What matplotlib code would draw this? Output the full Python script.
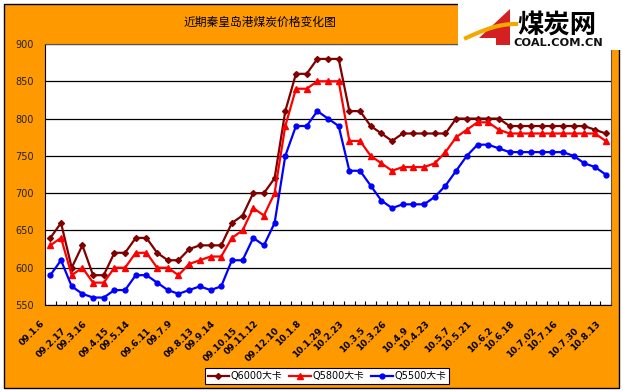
import numpy as np
import matplotlib
matplotlib.use('Agg')
import matplotlib.pyplot as plt
from matplotlib.patches import Rectangle, Polygon
from matplotlib.transforms import ScaledTranslation

plt.rcParams['font.family'] = ['DejaVu Sans', 'Noto Sans CJK SC']

# Данные
dates = ['09.1.6', '09.2.17', '09.3.16', '09.4.15', '09.5.14', '09.6.11', '09.7.9',
         '09.8.13', '09.9.14', '09.10.15', '09.11.12', '09.12.10', '10.1.8', '10.1.29',
         '10.2.23', '10.3.5', '10.3.26', '10.4.9', '10.4.23', '10.5.7', '10.5.21',
         '10.6.2', '10.6.18', '10.7.02', '10.7.16', '10.7.30', '10.8.13']

q6000 = [640, 660, 600, 630, 590, 590, 620, 620, 640, 640, 620, 610, 610, 625, 630, 630,
         630, 660, 670, 700, 700, 720, 810, 860, 860, 880, 880, 880, 810, 810, 790, 780,
         770, 780, 780, 780, 780, 780, 800, 800, 800, 800, 800, 790, 790, 790, 790, 790,
         790, 790, 790, 785, 780]
q5800 = [630, 640, 590, 600, 580, 580, 600, 600, 620, 620, 600, 600, 590, 605, 610, 615,
         615, 640, 650, 680, 670, 700, 790, 840, 840, 850, 850, 850, 770, 770, 750, 740,
         730, 735, 735, 735, 740, 755, 775, 785, 795, 795, 785, 780, 780, 780, 780, 780,
         780, 780, 780, 780, 770]
q5500 = [590, 610, 575, 565, 560, 560, 570, 570, 590, 590, 580, 570, 565, 570, 575, 570,
         575, 610, 610, 640, 630, 660, 750, 790, 790, 810, 800, 790, 730, 730, 710, 690,
         680, 685, 685, 685, 695, 710, 730, 750, 765, 765, 760, 755, 755, 755, 755, 755,
         755, 750, 740, 735, 725]

W, H = 623, 392
orange = '#FF9900'


def px(x, y):
    return (x / W, 1 - y / H)


fig = plt.figure(figsize=(W / 100, H / 100), dpi=100, facecolor='white')

# Рамка и фон
fig.patches.append(Rectangle(px(4, 388), 615 / W, 384 / H, transform=fig.transFigure,
                             facecolor=orange, edgecolor='black', lw=1, zorder=-10))

ax = fig.add_axes([45 / W, 1 - 305 / H, 566 / W, 261 / H])
ax.set_facecolor('white')

x = np.arange(len(q6000))
ax.plot(x, q6000, color='#800000', lw=1.6, marker='D', ms=3, label='Q6000大卡')
ax.plot(x, q5800, color='#FF0000', lw=1.6, marker='^', ms=4.5, label='Q5800大卡')
ax.plot(x, q5500, color='#0000FF', lw=1.6, marker='o', ms=3.5, label='Q5500大卡')

ax.set_xlim(-0.5, len(x) - 0.5)
ax.set_ylim(550, 900)
ax.set_yticks(np.arange(550, 901, 50))
ax.yaxis.grid(True, color='black', lw=0.9)
ax.set_axisbelow(True)
ax.tick_params(axis='y', length=0, pad=8, labelsize=7, labelcolor='#222222')

# Подписи дат через одну, со сдвигом в два ряда
ax.set_xticks(x[::2], dates)
ax.tick_params(axis='x', length=0, pad=0)
for i, lab in enumerate(ax.get_xticklabels()):
    dy = -0.17 if i % 2 == 0 else -0.24
    lab.set_rotation(45)
    lab.set_rotation_mode('anchor')
    lab.set_ha('right')
    lab.set_va('center')
    lab.set_fontsize(6.5)
    lab.set_fontweight('bold')
    lab.set_transform(lab.get_transform() + ScaledTranslation(-0.07, dy, fig.dpi_scale_trans))

# Засечки между категориями
sec = ax.secondary_xaxis('bottom')
sec.set_xticks(np.arange(-0.5, len(x), 1))
sec.tick_params(direction='in', length=3, labelbottom=False, width=0.8)
sec.spines['bottom'].set_visible(False)

for s in ['left', 'bottom']:
    ax.spines[s].set_color('black')
for s in ['top', 'right']:
    ax.spines[s].set_color('#555555')

fig.text(*px(260, 22), '近期秦皇岛港煤炭价格变化图', fontsize=8.5, ha='center', va='center')

leg = fig.legend(loc='center', bbox_to_anchor=px(327, 376), ncol=3, fontsize=7,
                 frameon=True, fancybox=False, edgecolor='black', framealpha=1,
                 handlelength=2.2, columnspacing=0.7, handletextpad=0.2,
                 borderpad=0.3, borderaxespad=0)
leg.get_frame().set_linewidth(0.8)

# Логотип
fig.patches.append(Rectangle(px(458, 50), 165 / W, 50 / H, transform=fig.transFigure,
                             facecolor='white', edgecolor='none', zorder=5))
fig.patches.append(Polygon([px(510, 9), px(479, 38), px(496, 38), px(496, 45),
                            px(510, 45)], closed=True,
                           transform=fig.transFigure, facecolor='#D42020',
                           edgecolor='none', zorder=6))
sw = np.linspace(0, 1, 20)
fig.add_artist(plt.Line2D((466 + 50 * sw) / W, 1 - (38 - 14 * np.sin(sw * 1.6)) / H,
                          transform=fig.transFigure, color='#F2A900', lw=3, zorder=7))
fig.text(*px(557, 25), '煤炭网', fontsize=19, fontweight='heavy', ha='center', va='center',
         color='black', family=['Noto Sans CJK SC'], zorder=8)
fig.text(*px(558, 43), 'COAL.COM.CN', fontsize=8.2, fontweight='bold', ha='center',
         va='center', color='#111111', zorder=8)

fig.savefig('out.png', dpi=100)
